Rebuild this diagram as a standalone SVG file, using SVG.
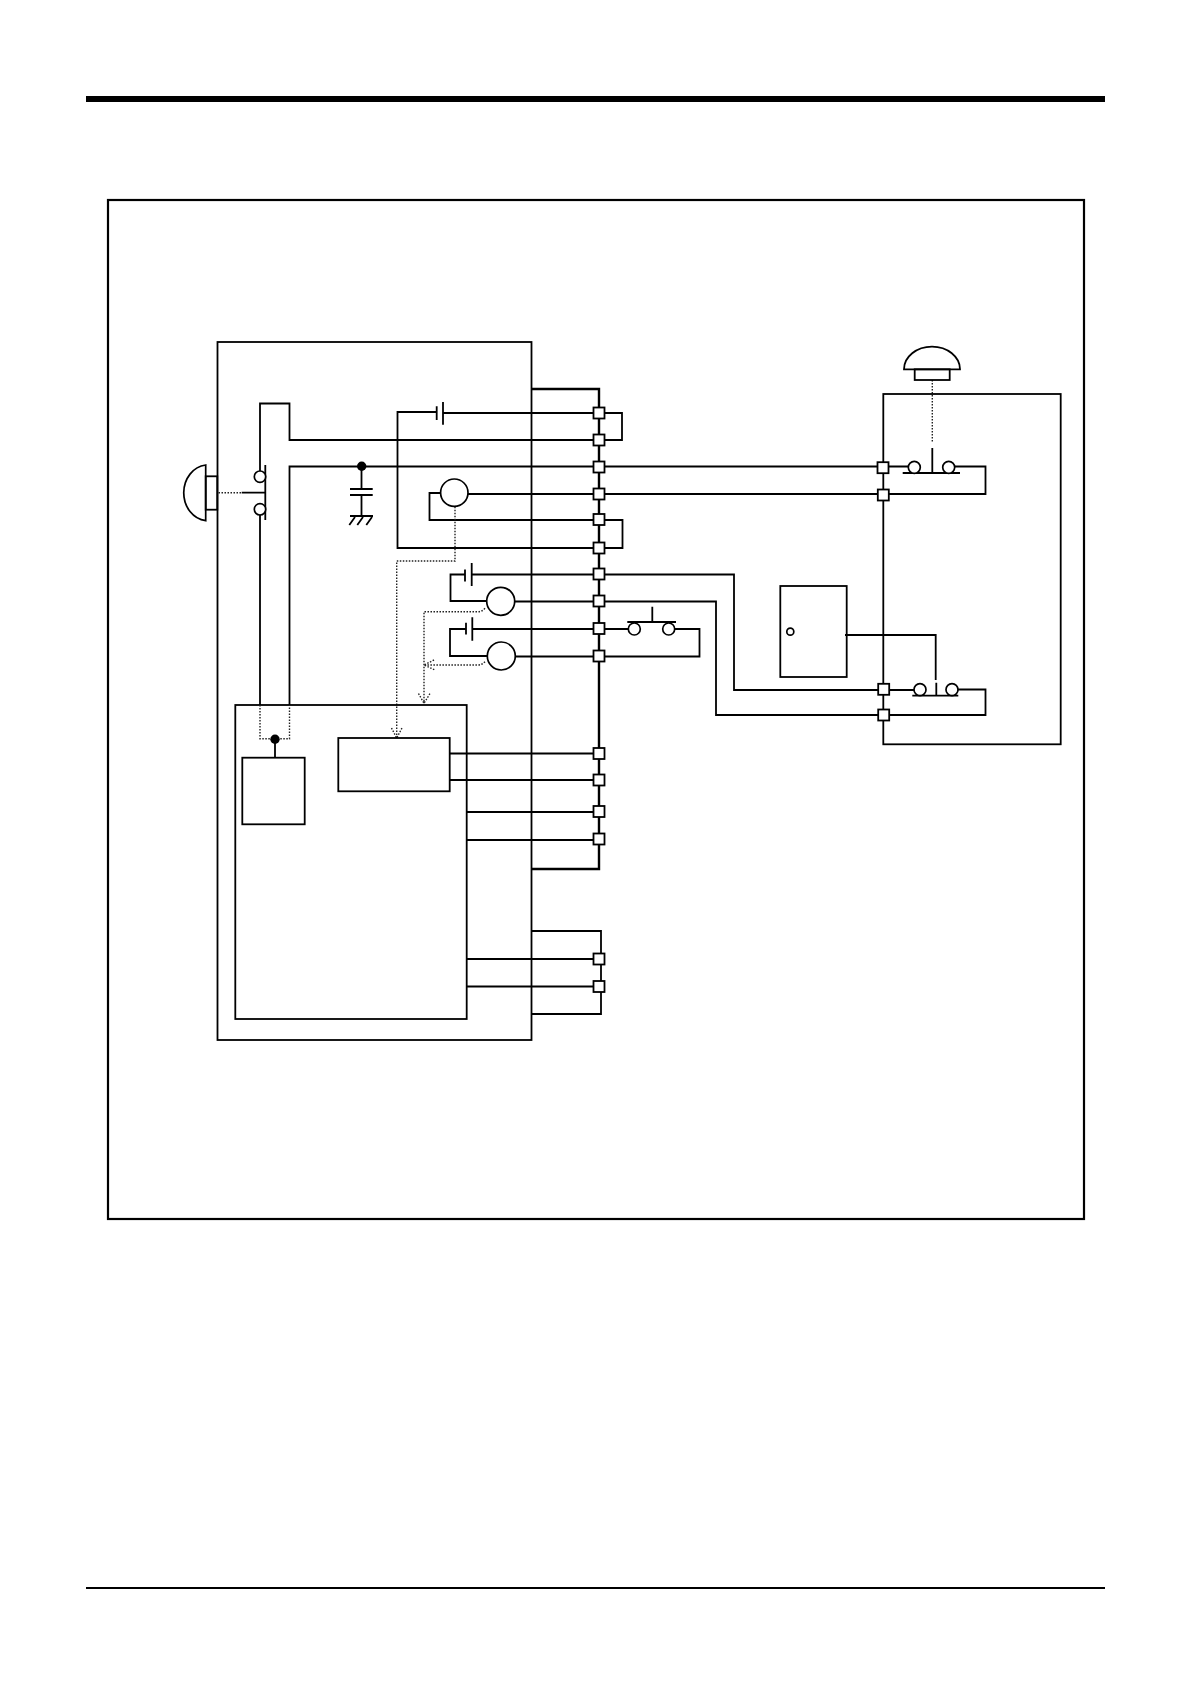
<svg xmlns="http://www.w3.org/2000/svg" width="1190" height="1684" viewBox="0 0 1190 1684">
<style>
.l{fill:none;stroke:#000;stroke-width:1.8}
.t{fill:none;stroke:#000;stroke-width:2.4}
.o{fill:none;stroke:#000;stroke-width:2.2}
.b{fill:#fff;stroke:#000;stroke-width:1.7}
.d{fill:none;stroke:#222;stroke-width:1.4;stroke-dasharray:1.5 1.5}
.term{fill:#fff;stroke:#000;stroke-width:1.8}
.dot{fill:#000}
</style>
<defs>
<rect id="tm" class="term" x="-5.5" y="-5.500" width="11" height="11"/>
</defs>
<rect width="1190" height="1684" fill="#fff"/>
<g id="page">
<rect x="86" y="96" width="1019" height="6" fill="#000"/>
<rect x="86" y="1587" width="1019" height="2" fill="#000"/>
<rect class="o" x="108" y="200" width="976" height="1019"/>
</g>
<g id="blockA"><rect class="l" x="217.500" y="342" width="314" height="698"/></g>
<g id="connectors">
<path class="t" d="M532 389H599V869H532"/>
<path class="l" d="M532 931H601V1014H532"/>
<path class="l" d="M443 413H622V440H289.500V403.500H260V471M260 515V705M289.500 705V466.500H883"/>
<path class="l" d="M436.500 412H397.500V548H622.500V520H429.500V493H441M468 494H985.500V466.500H954.500M883 466.500H908.500"/>
<path class="l" d="M361.500 466.500V489M361.500 495V516"/>
<path class="l" d="M465 574.500H450.500V601H487M471.500 574.500H734V690H914M958 689.500H985.500V715H716V601.500H514"/>
<path class="l" d="M466 629H450V656H487M472 629H628.500M675 629H699.500V656.500H515"/>
<path class="l" d="M449.500 753.500H599M449.500 780H599M466.500 812H599M466.500 840H599M466.500 959H599M466.500 986.500H599"/>
<path class="l" d="M845 635H935.700V680"/>
<path class="d" d="M241 492.700H217M932.300 380V442"/>
<path class="d" d="M455 506.700V561H396.700V738M391.500 728L396.700 738L402 728"/>
<path class="d" d="M485 608.300Q482 611.700 478 611.700H424V703.300M418.500 693.500L424 703.300L430 693.500"/>
<path class="d" d="M485 661.700Q482 665 478 665H424M434 660L424 665L435 670"/>
</g>
<g id="terminals-left">
<use href="#tm" x="599" y="413"/><use href="#tm" x="599" y="440"/><use href="#tm" x="599" y="467"/><use href="#tm" x="599" y="494"/><use href="#tm" x="599" y="519.500"/><use href="#tm" x="599" y="548"/><use href="#tm" x="599" y="574"/><use href="#tm" x="599" y="601"/><use href="#tm" x="599" y="628.500"/><use href="#tm" x="599" y="656"/>
<use href="#tm" x="599" y="753.500"/><use href="#tm" x="599" y="780"/><use href="#tm" x="599" y="811.500"/><use href="#tm" x="599" y="839"/><use href="#tm" x="599" y="959"/><use href="#tm" x="599" y="986.500"/>
</g>
<g id="emergency-stop-left">
<path class="b" d="M205.700 465V520.700A24.500 28 0 0 1 205.700 465Z"/>
<rect class="l" x="205.700" y="476.300" width="11.600" height="33.400"/>
<path class="l" d="M241.700 492.700H265.300M265.300 465V520"/>
<circle class="b" cx="260" cy="476.700" r="5.700"/><circle class="b" cx="260" cy="509.300" r="5.700"/>
</g>
<g id="capacitor">
<circle class="dot" cx="361.700" cy="466.300" r="4.700"/>
<path class="l" d="M350 489H372.700M350 495H372.700M350 516H373M355 517L349.300 525M363 517L357.300 525M372 517L366.300 525"/>
</g>
<g id="relay-1">
<path class="l" d="M436.700 406.300V420M443 402V424.700"/>
<circle class="b" cx="454.300" cy="492.700" r="13.700"/>
</g>
<g id="relay-2">
<path class="l" d="M465 569.500V581.500M471.700 563V586"/>
<circle class="b" cx="500.700" cy="601.300" r="14"/>
</g>
<g id="relay-3">
<path class="l" d="M466 622.700V634.500M472.300 617.300V640.700"/>
<circle class="b" cx="501.300" cy="656" r="14"/>
</g>
<g id="blockB"><rect class="l" x="235.300" y="705" width="231.400" height="314"/></g>
<g id="stem">
<path class="d" d="M260 705V738.700H289.500V705"/>
<circle class="dot" cx="275" cy="739.300" r="4.700"/>
<path class="l" d="M275 739V757.700"/>
<rect class="l" x="242.300" y="757.700" width="62.400" height="66.600"/>
</g>
<g id="inner-box">
<rect class="l" x="338.300" y="738" width="111.400" height="53.300"/>
</g>
<g id="switch-ext">
<path class="l" d="M627.300 622H676M652.300 606.700V622"/>
<circle class="b" cx="634.300" cy="629" r="6"/><circle class="b" cx="668.700" cy="629" r="6"/>
</g>
<g id="box-right"><rect class="l" x="883.300" y="394" width="177.400" height="350.300"/></g>
<g id="button-right">
<path class="l" d="M904 369.300A28 22.600 0 0 1 960 369.300Z"/>
<rect class="l" x="914.700" y="369.300" width="35" height="10.700"/>
<path class="l" d="M902.700 473H960M932.300 448V473"/>
<circle class="b" cx="914.300" cy="467.300" r="6"/><circle class="b" cx="948.700" cy="467.300" r="6"/>
</g>
<g id="switch-door">
<path class="l" d="M912.300 695.700H958.300M936.300 682.700V695.700"/>
<circle class="b" cx="920" cy="689.700" r="6"/><circle class="b" cx="952" cy="689.700" r="6"/>
</g>
<g id="key-box">
<rect class="l" x="780.300" y="586" width="66.400" height="91"/>
<circle class="b" cx="790.300" cy="631.700" r="3.500"/>
</g>
<g id="terminals-right">
<use href="#tm" x="883" y="467.700"/><use href="#tm" x="883.300" y="495"/><use href="#tm" x="883.700" y="689.300"/><use href="#tm" x="883.700" y="715"/>
</g>
</svg>
